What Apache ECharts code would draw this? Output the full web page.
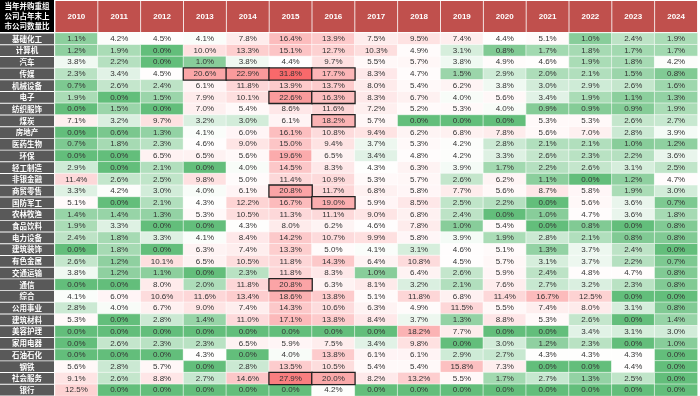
<!DOCTYPE html>
<html>
<head>
<meta charset="utf-8">
<script src="https://cdn.jsdelivr.net/npm/echarts@6/dist/echarts.min.js"></script>
<style>
    html, body { margin: 0; padding: 0; background: #fff; }
    #chart { width: 700px; height: 396px; }
</style>
</head>
<body>
<div id="chart"></div>
<script>
// years across the top, industries down the side
const years = ['2010', '2011', '2012', '2013', '2014', '2015', '2016', '2017', '2018', '2019', '2020', '2021', '2022', '2023', '2024'];
const industries = ['基础化工', '计算机', '汽车', '传媒', '机械设备', '电子', '纺织服饰', '煤炭', '房地产', '医药生物',
    '环保', '轻工制造', '非银金融', '商贸零售', '国防军工', '农林牧渔', '食品饮料', '电力设备', '建筑装饰', '有色金属',
    '交通运输', '通信', '综合', '公用事业', '建筑材料', '美容护理', '家用电器', '石油石化', '钢铁', '社会服务', '银行'];

// ratio (%) per industry, one value per year
const ratios = [
    [1.1, 4.2, 4.5, 4.1, 7.8, 16.4, 13.9, 7.5, 9.5, 7.4, 4.4, 5.1, 1.0, 2.4, 1.9],
    [1.2, 1.9, 0.0, 10.0, 13.3, 15.1, 12.7, 10.3, 4.9, 3.1, 0.8, 1.7, 1.8, 1.7, 1.7],
    [3.8, 2.2, 0.0, 1.0, 3.8, 4.4, 9.7, 5.5, 5.7, 3.8, 4.9, 4.6, 1.9, 1.8, 4.2],
    [2.3, 3.4, 4.5, 20.6, 22.9, 31.8, 17.7, 8.3, 4.7, 1.5, 2.9, 2.0, 2.1, 1.5, 0.8],
    [0.7, 2.6, 2.4, 6.1, 11.8, 13.9, 13.7, 8.0, 5.4, 6.2, 3.8, 3.0, 2.9, 2.6, 1.6],
    [1.9, 0.0, 1.5, 7.9, 10.1, 22.6, 16.3, 8.3, 6.7, 4.0, 5.6, 3.4, 1.9, 1.1, 1.3],
    [0.0, 1.5, 0.0, 7.0, 5.4, 8.6, 11.6, 7.2, 5.2, 5.3, 4.0, 0.9, 0.9, 0.9, 1.9],
    [7.1, 3.2, 9.7, 3.2, 3.0, 6.1, 18.2, 5.7, 0.0, 0.0, 0.0, 5.3, 5.3, 2.6, 2.7],
    [0.0, 0.6, 1.3, 4.1, 6.0, 16.1, 10.8, 9.4, 6.2, 6.8, 7.8, 5.6, 7.0, 2.8, 3.9],
    [0.7, 1.8, 2.3, 4.6, 9.0, 15.0, 9.4, 3.7, 5.3, 4.2, 2.8, 2.1, 2.1, 1.0, 1.2],
    [0.0, 0.0, 6.5, 6.5, 5.6, 19.6, 6.5, 3.4, 4.8, 4.2, 3.3, 2.6, 2.3, 2.2, 3.6],
    [2.9, 0.0, 2.1, 0.0, 4.0, 14.5, 8.3, 4.3, 6.3, 3.9, 1.7, 2.2, 2.6, 3.1, 2.5],
    [11.4, 2.6, 2.5, 9.8, 5.0, 11.4, 10.9, 5.3, 5.7, 2.6, 6.2, 1.1, 0.0, 1.2, 4.7],
    [3.3, 4.2, 3.0, 4.0, 6.1, 20.8, 11.7, 6.8, 5.8, 7.7, 5.6, 8.7, 5.8, 1.9, 3.0],
    [5.1, 0.0, 2.1, 4.3, 12.2, 16.7, 19.0, 5.9, 8.5, 2.5, 2.2, 0.0, 5.6, 3.6, 0.7],
    [1.4, 1.4, 1.3, 5.3, 10.5, 11.3, 11.1, 9.0, 6.8, 2.4, 0.0, 1.0, 4.7, 3.6, 1.8],
    [1.9, 3.3, 0.0, 0.0, 4.3, 8.0, 6.2, 4.6, 7.8, 1.0, 5.4, 0.0, 0.8, 0.0, 0.8],
    [2.4, 1.8, 3.3, 4.1, 8.4, 14.2, 10.7, 9.9, 5.8, 3.9, 1.9, 2.8, 2.1, 0.8, 0.8],
    [0.0, 1.8, 0.0, 6.3, 7.4, 13.3, 5.0, 4.1, 3.1, 4.6, 5.1, 1.3, 3.7, 2.4, 0.0],
    [2.6, 1.2, 10.1, 6.5, 10.5, 11.8, 14.3, 6.4, 10.8, 4.5, 5.7, 3.1, 3.7, 2.2, 0.7],
    [3.8, 1.2, 1.1, 0.0, 2.3, 11.8, 8.3, 1.0, 6.4, 2.6, 5.9, 2.4, 4.8, 4.7, 0.8],
    [0.0, 0.0, 8.0, 2.0, 11.8, 20.8, 6.3, 8.1, 3.2, 2.1, 7.6, 2.7, 3.2, 2.3, 0.8],
    [4.1, 6.0, 10.6, 11.6, 13.4, 18.6, 13.8, 5.1, 11.8, 6.8, 11.4, 16.7, 12.5, 0.0, 0.0],
    [2.8, 4.0, 6.7, 9.0, 7.4, 14.3, 10.6, 6.3, 4.9, 11.5, 5.5, 7.4, 8.0, 3.1, 0.8],
    [5.3, 0.0, 2.8, 1.4, 11.0, 17.1, 13.8, 8.4, 3.7, 1.3, 8.8, 5.3, 2.6, 0.0, 1.4],
    [0.0, 0.0, 0.0, 0.0, 0.0, 0.0, 0.0, 0.0, 18.2, 7.7, 0.0, 0.0, 3.4, 3.1, 3.0],
    [0.0, 2.6, 2.3, 2.3, 6.5, 5.9, 7.5, 3.4, 9.8, 0.0, 3.0, 1.2, 2.3, 0.0, 1.0],
    [0.0, 0.0, 0.0, 4.3, 0.0, 4.0, 13.8, 6.1, 6.1, 2.9, 2.7, 4.3, 4.3, 4.3, 0.0],
    [5.6, 2.8, 5.7, 0.0, 2.8, 13.5, 10.5, 5.4, 5.4, 15.8, 7.3, 0.0, 0.0, 4.4, 0.0],
    [9.1, 2.6, 8.8, 2.7, 14.6, 27.9, 20.0, 8.2, 13.2, 5.5, 1.7, 2.7, 1.3, 2.5, 0.0],
    [12.5, 0.0, 0.0, 0.0, 0.0, 0.0, 4.2, 0.0, 0.0, 0.0, 0.0, 0.0, 0.0, 0.0, 0.0]
];

// cells outlined in black
const boxed = [
    ['传媒', '2013'], ['传媒', '2014'], ['传媒', '2015'], ['传媒', '2016'],
    ['电子', '2015'], ['电子', '2016'], ['煤炭', '2016'], ['商贸零售', '2015'],
    ['国防军工', '2016'], ['通信', '2015'], ['社会服务', '2015'], ['社会服务', '2016']
];

//#region COLORS
const vMin = 0, vMid = 4.2, vMax = 31.8;
const cLow = [99, 190, 123], cMid = [255, 255, 255], cHigh = [248, 105, 107];
function mix(a, b, t) {
    const c = a.map((v, i) => Math.round(v + (b[i] - v) * t));
    return `rgb(${c[0]},${c[1]},${c[2]})`;
}
const stops = [];
for (let i = 0; i <= 80; i++) {
    const v = vMin + (vMax - vMin) * i / 80;
    stops.push(v <= vMid ? mix(cLow, cMid, v / vMid) : mix(cMid, cHigh, (v - vMid) / (vMax - vMid)));
}
//#endregion COLORS

const isBoxed = (ind, yr) => boxed.some(b => b[0] === ind && b[1] === yr);
const plain = [], outlined = [];
industries.forEach((ind, r) => {
    years.forEach((yr, c) => {
        if (isBoxed(ind, yr)) {
            outlined.push({ value: [c, r, ratios[r][c]], itemStyle: { borderColor: '#222', borderWidth: 1.3 } });
        } else {
            plain.push([c, r, ratios[r][c]]);
        }
    });
});

const hiddenAxis = {
    axisLine: { show: false },
    axisTick: { show: false },
    axisLabel: { show: false },
    splitLine: { show: false }
};

const chart = echarts.init(document.getElementById('chart'));
chart.setOption({
    animation: false,
    grid: [
        { left: 0, width: 54, top: 33, bottom: 0 },
        { left: 55, right: 0, top: 33, bottom: 0 }
    ],
    xAxis: [
        { type: 'value', gridIndex: 0, min: 0, max: 1, ...hiddenAxis },
        {
            type: 'category',
            gridIndex: 1,
            position: 'top',
            data: years,
            axisLine: { show: false },
            axisTick: { show: false },
            splitLine: { show: false },
            axisLabel: {
                margin: 1,
                interval: 0,
                formatter: v => `{h|${v}}`,
                rich: {
                    h: {
                        color: '#fff',
                        fontWeight: 'bold',
                        fontSize: 8,
                        fontFamily: 'Liberation Sans',
                        backgroundColor: '#C0504D',
                        width: 42,
                        height: 31,
                        lineHeight: 31,
                        align: 'center'
                    }
                }
            }
        }
    ],
    yAxis: [
        { type: 'category', gridIndex: 0, inverse: true, data: industries, ...hiddenAxis },
        { type: 'category', gridIndex: 1, inverse: true, data: industries, ...hiddenAxis }
    ],
    visualMap: {
        show: false,
        type: 'continuous',
        seriesIndex: 1,
        min: vMin,
        max: vMax,
        dimension: 2,
        inRange: { color: stops }
    },
    graphic: [
        {
            type: 'rect',
            left: 0, top: 0,
            shape: { width: 54, height: 32 },
            style: { fill: '#000' }
        },
        {
            type: 'text',
            x: 27, y: 1,
            style: {
                text: '当年并购重组\n公司占年末上\n市公司数量比',
                fill: '#fff',
                font: 'bold 7.5px "Noto Sans CJK SC"',
                lineHeight: 10,
                align: 'center',
                verticalAlign: 'top'
            }
        }
    ],
    series: [
        {
            // row header column
            type: 'bar',
            xAxisIndex: 0,
            yAxisIndex: 0,
            data: industries.map(() => 1),
            barWidth: '92%',
            itemStyle: { color: '#595959' },
            label: {
                show: true,
                position: 'inside',
                formatter: p => p.name,
                color: '#fff',
                fontWeight: 'bold',
                fontSize: 7.5,
                fontFamily: 'Noto Sans CJK SC'
            },
            silent: true
        },
        {
            type: 'heatmap',
            xAxisIndex: 1,
            yAxisIndex: 1,
            data: plain.concat(outlined),
            itemStyle: { borderColor: 'rgba(255,255,255,0.7)', borderWidth: 0.8 },
            label: {
                show: true,
                color: '#333',
                fontSize: 8,
                fontFamily: 'Liberation Sans',
                formatter: p => p.value[2].toFixed(1) + '%'
            }
        }
    ]
});
</script>
</body>
</html>
